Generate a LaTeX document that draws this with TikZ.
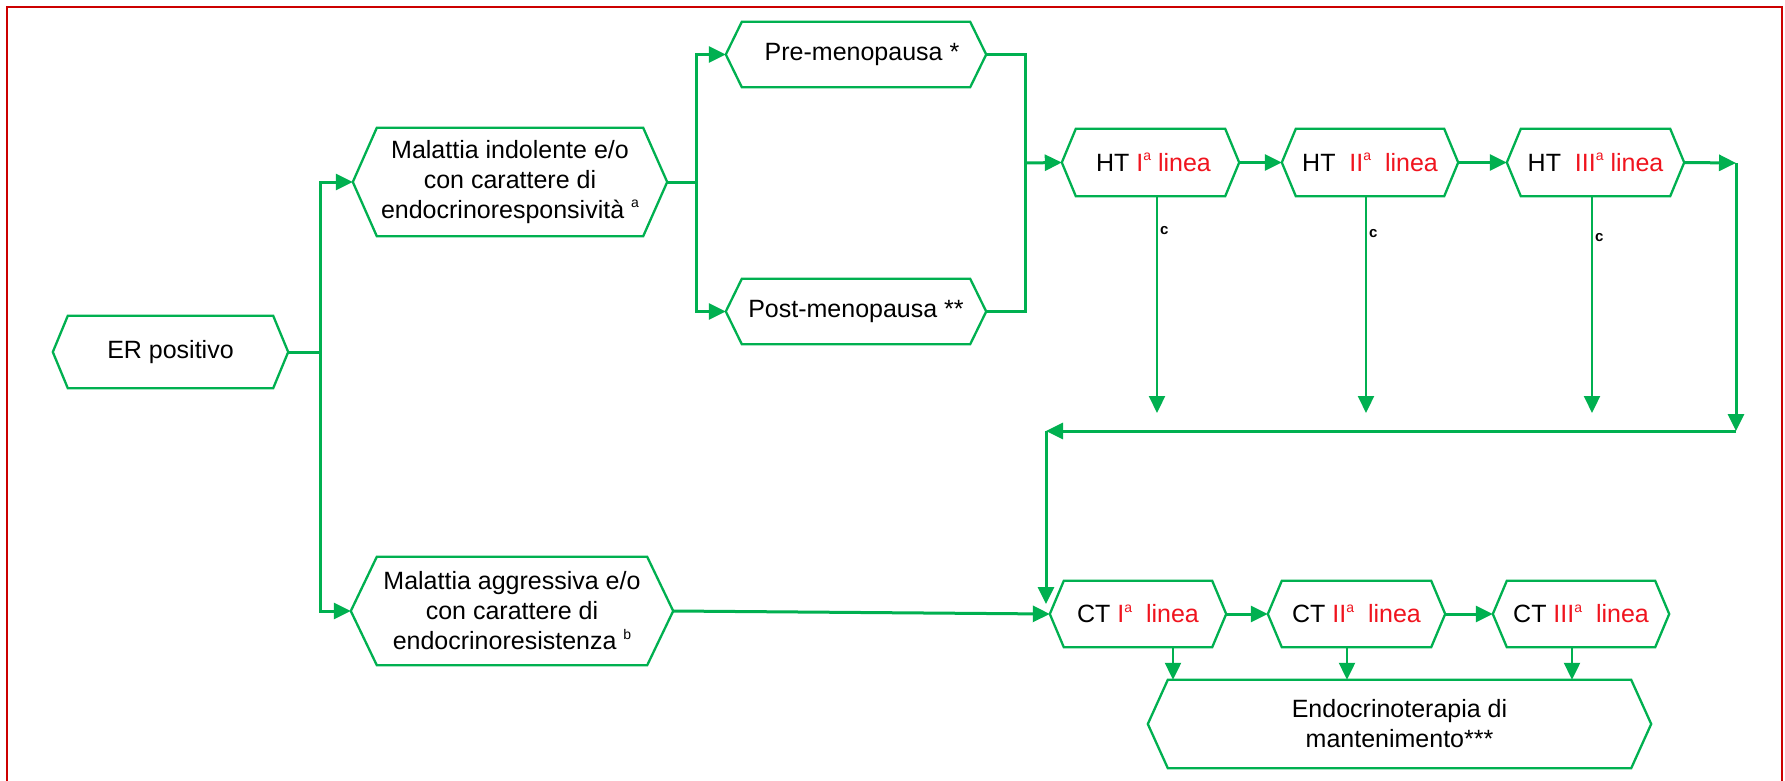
\documentclass[tikz,border=0pt]{standalone}
\usepackage{fontspec}
\setmainfont{Liberation Sans}
\usetikzlibrary{arrows.meta}
\definecolor{gr}{RGB}{0,176,80}
\definecolor{rd}{RGB}{240,20,30}
\definecolor{fr}{RGB}{204,0,0}
\tikzset{
  boxtext/.style={shape=rectangle, inner sep=0pt, align=center, font=\fontsize{25}{30}\selectfont},
  boxline/.style={draw=gr, line width=2.3pt, line join=miter},
  conn/.style={draw=gr, line width=3pt},
  arrow/.style={conn, -{Triangle[length=17pt,width=16pt]}},
  thinarrow/.style={draw=gr, line width=2.2pt, -{Triangle[length=17pt,width=16pt]}},
  clabel/.style={font=\bfseries\fontsize{15}{15}\selectfont, inner sep=2pt},
  frameline/.style={draw=fr, line width=2pt}
}
\newcommand\hexbox[7]{%
  \node[boxtext, minimum width=#4pt, minimum height=#5pt] (#1) at (#2,#3) {#7};
  \draw[boxline] (#1.west) -- ([xshift=#6pt]#1.north west) -- ([xshift=-#6pt]#1.north east) -- (#1.east) -- ([xshift=-#6pt]#1.south east) -- ([xshift=#6pt]#1.south west) -- cycle;
}
\newcommand\rt[1]{\textcolor{rd}{#1}}
\newcommand\supx[1]{\raisebox{0.42em}{\fontsize{14}{14}\selectfont #1}}
\begin{document}
\begin{tikzpicture}[x=1pt,y=-1pt]
\useasboundingbox (0,0) rectangle (1785,781);
\fill[white] (0,0) rectangle (1785,781);
% frame
\draw[frameline] (7,800) -- (7,7) -- (1782,7) -- (1782,800);

% boxes
\hexbox{er}{170.5}{352}{235}{72}{15}{ER positivo}
\hexbox{ind}{510}{182}{314}{108}{24}{Malattia indolente e/o\\con carattere di\\endocrinoresponsività \supx{a}}
\hexbox{agg}{512}{611}{322}{108}{26}{Malattia aggressiva e/o\\con carattere di\\endocrinoresistenza \supx{b}}
\hexbox{pre}{856}{54.5}{260}{65}{16}{\hspace*{12pt}Pre-menopausa *}
\hexbox{post}{856}{311.5}{260}{65}{16}{Post-menopausa **}
\hexbox{ht1}{1150.5}{162.5}{177}{67}{14}{\hspace*{6pt}HT \rt{I\supx{a} linea}}
\hexbox{ht2}{1370}{162.5}{176}{67}{14}{HT\ \ \rt{II\supx{a}\ \ linea}}
\hexbox{ht3}{1595.5}{162.5}{177}{67}{14}{HT\ \ \rt{III\supx{a} linea}}
\hexbox{ct1}{1138}{614}{176}{66}{14}{CT \rt{I\supx{a}\ \ linea}}
\hexbox{ct2}{1356.5}{614}{177}{66}{14}{CT \rt{II\supx{a}\ \ linea}}
\hexbox{ct3}{1581}{614}{176}{66}{14}{CT \rt{III\supx{a}\ \ linea}}
\hexbox{endo}{1399.5}{724}{503}{88}{20}{Endocrinoterapia di\\mantenimento***}

% junctions
\coordinate (j1) at (320,352);
\coordinate (j2) at (696,182);
\coordinate (j3) at (1025,163);
\coordinate (r1) at (1736,163);
\coordinate (r2) at (1736,431);
\coordinate (r3) at (1046,431);
\coordinate (r4) at (1046,604);
\coordinate (d1) at (1157,413);
\coordinate (d2) at (1366,413);
\coordinate (d3) at (1592,413);

% connectors
\draw[conn] (er.east) -- (j1);
\draw[arrow] (j1) |- (ind.west);
\draw[arrow] (j1) |- (agg.west);
\draw[conn] (ind.east) -- (j2);
\draw[arrow] (j2) |- (pre.west);
\draw[arrow] (j2) |- (post.west);
\draw[conn] (pre.east) -| (j3) |- (post.east);
\draw[arrow] (j3) -- (ht1.west);
\draw[arrow] (ht1.east) -- (ht2.west);
\draw[arrow] (ht2.east) -- (ht3.west);
\draw[arrow] (ht3.east) -- (r1);
\draw[arrow] (r1) -- (r2);
\draw[arrow] (r2) -- (r3);
\draw[arrow] (r3) -- (r4);
\draw[thinarrow] (ht1.south -| d1) -- node[clabel, pos=0.16, right] {c} (d1);
\draw[thinarrow] (ht2.south -| d2) -- node[clabel, pos=0.17, right] {c} (d2);
\draw[thinarrow] (ht3.south -| d3) -- node[clabel, pos=0.19, right] {c} (d3);
\draw[arrow] (agg.east) -- (ct1.west);
\draw[arrow] (ct1.east) -- (ct2.west);
\draw[arrow] (ct2.east) -- (ct3.west);
\draw[thinarrow] ([xshift=35pt]ct1.south) -- ([xshift=35pt]ct1.south |- endo.north);
\draw[thinarrow] ([xshift=-9.5pt]ct2.south) -- ([xshift=-9.5pt]ct2.south |- endo.north);
\draw[thinarrow] ([xshift=-9pt]ct3.south) -- ([xshift=-9pt]ct3.south |- endo.north);
\end{tikzpicture}
\end{document}
